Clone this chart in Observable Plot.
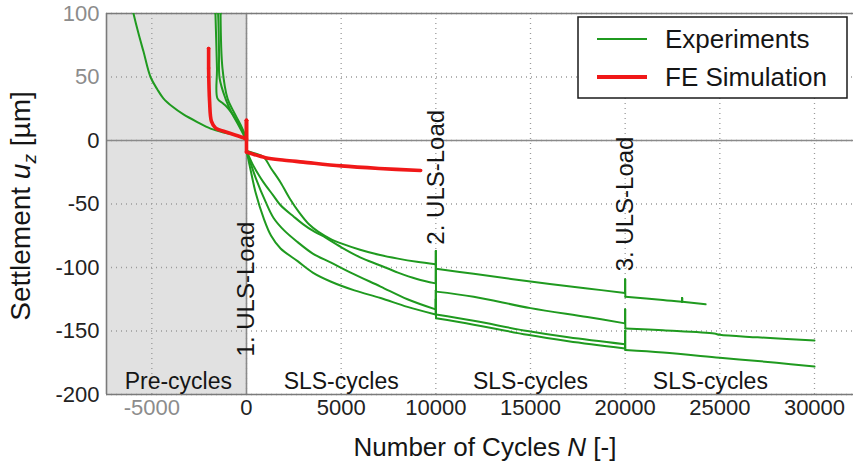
<!DOCTYPE html>
<html>
<head>
<meta charset="utf-8">
<script src="https://cdn.jsdelivr.net/npm/d3@7"></script>
<script src="https://cdn.jsdelivr.net/npm/@observablehq/plot@0.6"></script>
<style>
  html, body { margin: 0; padding: 0; background: white; }
  svg { display: block; }
</style>
</head>
<body>
<script>
// ---- axes / ticks ----
const xDomain = [-7394, 32060];
const yDomain = [-200, 100];
const xTicks = [-5000, 0, 5000, 10000, 15000, 20000, 25000, 30000];
const yTicks = [100, 50, 0, -50, -100, -150, -200];
const lightXTicks = [-5000];
const lightYTicks = [100, 50];

// ---- phases ----
const preCycleEnd = 0;
const phaseLabels = ["Pre-cycles", "SLS-cycles", "SLS-cycles", "SLS-cycles"];
const phaseLabelN = [-3600, 5000, 15000, 24500];
const phaseLabelU = -190;

// ---- ULS load annotations ----
const ulsLabels = ["1. ULS-Load", "2. ULS-Load", "3. ULS-Load"];
const ulsN = [0, 10000, 20000];
const ulsLabelBase = [-170, -82, -103];

// ---- Experiments [N, u_z] ----
const exp1 = [[-1660,104],[-1640,100],[-1560,57],[-1530,33],[-1220,29],[-950,25],[-480,15],[-50,3],[0,0],
  [0,-8],[400,-10],[900,-13],[1300,-22],[1800,-33],[2300,-46],[2800,-57],[3300,-66],[3800,-72],[4500,-78],
  [5000,-81],[6000,-86],[7000,-90],[8000,-93],[9000,-95.5],[9990,-97.5],[10000,-87],[10010,-101],
  [12000,-105],[15000,-111],[18000,-116.5],[19990,-120],[20000,-109.5],[20010,-123],[22000,-125.5],
  [23000,-127],[23010,-124],[23020,-127],[24250,-129]];
const exp2 = [[-1390,104],[-1370,100],[-1270,57],[-1000,33],[-690,23],[-320,12.6],[-50,3],[0,0],
  [0,-8],[300,-18],[600,-26],[900,-33],[1400,-43],[1800,-51],[2500,-60],[3000,-66],[3500,-71],[4000,-75],
  [5000,-84],[6000,-92],[7000,-98],[8000,-104],[9000,-109],[9990,-112.5],[10000,-98],[10010,-119],
  [12000,-123],[15000,-132],[18000,-139],[19990,-144],[20000,-133],[20010,-148],[22000,-149.5],
  [24700,-152],[25000,-153],[27000,-155],[30000,-157.5]];
const exp3 = [[-1530,104],[-1500,100],[-1450,70],[-1420,49],[-1110,33],[-790,22],[-420,12],[-100,3],[0,0],
  [0,-8],[200,-17],[500,-30],[1000,-48],[1430,-61],[2000,-71],[2700,-80],[3500,-89],[4440,-96],[5500,-104],
  [7080,-115],[8500,-125],[9990,-133],[10000,-118],[10010,-137],[12000,-142],[14840,-150],[17000,-155],
  [19990,-160.5]];
const exp4 = [[-6000,102],[-5970,100],[-5700,84],[-5440,70],[-5070,50],[-4700,40],[-4380,33],[-3900,26.5],
  [-3330,20.5],[-2600,14.5],[-1900,9.4],[-1200,6.3],[-690,4.7],[-160,1.6],[0,0],
  [0,-8],[200,-22],[500,-42],[900,-61],[1300,-75],[1800,-85],[2700,-95],[3500,-104],[4440,-111],[5700,-118],
  [7080,-124],[8500,-131],[9990,-137],[10000,-125],[10010,-140],[12000,-145],[14840,-153],[17000,-158],
  [19990,-163.7],[20000,-150],[20010,-165],[22000,-167],[25000,-171],[28000,-175],[30000,-178]];
const experiments = [exp1, exp2, exp3, exp4];

// ---- FE simulation [N, u_z] ----
const feSim = [[-2000,72.4],[-2000,57],[-1950,31],[-1850,15],[-1640,10],[-1000,6.3],[-320,3],[-50,1.5],[0,1],
  [0,16],[0,-9],[200,-10],[1000,-13.5],[2000,-15.5],[3000,-17],[5000,-20],[7000,-22],[9200,-23.6]];

// Split a series into smooth pieces and sharp jumps (consecutive points nearly at the same N)
function splitSeries(series, id) {
  const smooth = [], jumps = [];
  let seg = 0, cur = [series[0]];
  for (let i = 1; i < series.length; i++) {
    const a = series[i - 1], b = series[i];
    if (Math.abs(b[0] - a[0]) <= 25) {
      cur.forEach(p => smooth.push({n: p[0], u: p[1], key: id + "-" + seg}));
      jumps.push({n: a[0], u: a[1], key: id + "-j" + i}, {n: b[0], u: b[1], key: id + "-j" + i});
      seg++; cur = [b];
    } else cur.push(b);
  }
  cur.forEach(p => smooth.push({n: p[0], u: p[1], key: id + "-" + seg}));
  return {smooth, jumps};
}
const expParts = experiments.map((s, i) => splitSeries(s, "e" + i));
const expSmooth = expParts.flatMap(p => p.smooth);
const expJumps = expParts.flatMap(p => p.jumps);
const feParts = splitSeries(feSim, "fe");

const phaseData = phaseLabels.map((label, i) => ({label, n: phaseLabelN[i]}));
const ulsData = ulsLabels.map((label, i) => ({label, n: ulsN[i], u: ulsLabelBase[i]}));

const green = "#1f9a1f", red = "#f01818", frameColor = "#7a7a7a";
const font = "'Liberation Sans', Arial, Helvetica, sans-serif";
const fmt = d => String(d);

const svg = Plot.plot({
  width: 853, height: 470,
  marginLeft: 106, marginRight: 0, marginTop: 13, marginBottom: 76,
  style: {fontFamily: font, background: "white", overflow: "visible"},
  x: {domain: xDomain, label: null},
  y: {domain: yDomain, label: null},
  marks: [
    Plot.rect([{x1: xDomain[0], x2: preCycleEnd}], {x1: "x1", x2: "x2", y1: yDomain[0], y2: yDomain[1], fill: "#e1e1e1"}),
    Plot.gridX(xTicks, {stroke: "#9a9a9a", strokeOpacity: 1, strokeDasharray: "1,4", strokeWidth: 1.3}),
    Plot.gridY(yTicks, {stroke: "#9a9a9a", strokeOpacity: 1, strokeDasharray: "1,4", strokeWidth: 1.3}),
    Plot.ruleY([0], {stroke: "#8a8a8a", strokeWidth: 1.6}),
    Plot.ruleX([0], {stroke: "#8a8a8a", strokeWidth: 1.6}),
    Plot.ruleX([xDomain[0]], {stroke: frameColor, strokeWidth: 1.6}),
    Plot.ruleY(yDomain, {stroke: frameColor, strokeWidth: 1.6}),
    Plot.text(ulsData, {x: "n", y: "u", text: "label", rotate: -90, textAnchor: "start",
      lineAnchor: "middle", fontSize: 24, fill: "#151515", ariaLabel: "uls-label"}),
    Plot.line(expSmooth, {x: "n", y: "u", z: "key", stroke: green, strokeWidth: 2, curve: "catmull-rom", clip: true}),
    Plot.line(expJumps, {x: "n", y: "u", z: "key", stroke: green, strokeWidth: 2, clip: true}),
    Plot.line(feParts.smooth, {x: "n", y: "u", z: "key", stroke: red, strokeWidth: 3.6, curve: "catmull-rom", clip: true}),
    Plot.line(feParts.jumps, {x: "n", y: "u", z: "key", stroke: red, strokeWidth: 3.6, clip: true}),
    Plot.text(phaseData, {x: "n", y: phaseLabelU, text: "label", fontSize: 23, fill: "#151515"}),
    Plot.axisX(xTicks.filter(t => !lightXTicks.includes(t)), {tickSize: 0, tickPadding: 5, fontSize: 22, fill: "#222", label: null, tickFormat: fmt}),
    Plot.axisX(lightXTicks, {tickSize: 0, tickPadding: 5, fontSize: 22, fill: "#8c8c8c", label: null, tickFormat: fmt}),
    Plot.axisY(yTicks.filter(t => !lightYTicks.includes(t)), {tickSize: 0, tickPadding: 7, fontSize: 22, fill: "#222", label: null, tickFormat: fmt}),
    Plot.axisY(lightYTicks, {tickSize: 0, tickPadding: 7, fontSize: 22, fill: "#8c8c8c", label: null, tickFormat: fmt})
  ]
});
document.body.appendChild(svg);

const root = d3.select(svg);

// white boxes behind ULS labels
root.selectAll('g[aria-label="uls-label"] text').each(function() {
  const bb = this.getBBox();
  const t = this.getAttribute("transform");
  const r = document.createElementNS("http://www.w3.org/2000/svg", "rect");
  r.setAttribute("x", bb.x - 3);
  r.setAttribute("y", bb.y + 1);
  r.setAttribute("width", bb.width + 6);
  r.setAttribute("height", bb.height - 2);
  r.setAttribute("fill", "white");
  if (t) r.setAttribute("transform", t);
  this.parentNode.insertBefore(r, this);
});

// y-axis title with italic u and subscript z
const yt = root.append("text")
  .attr("transform", "translate(30,206) rotate(-90)")
  .attr("text-anchor", "middle")
  .attr("font-family", font).attr("font-size", 28).attr("fill", "#151515");
yt.append("tspan").text("Settlement ");
yt.append("tspan").attr("font-style", "italic").text("u");
yt.append("tspan").attr("font-style", "italic").attr("font-size", 19).attr("dy", 6).text("z");
yt.append("tspan").attr("dy", -6).text(" [\u00b5m]");

// x-axis title with italic N
const xt = root.append("text")
  .attr("x", 485).attr("y", 456)
  .attr("text-anchor", "middle")
  .attr("font-family", font).attr("font-size", 26).attr("fill", "#151515");
xt.append("tspan").text("Number of Cycles ");
xt.append("tspan").attr("font-style", "italic").text("N");
xt.append("tspan").text(" [-]");

// legend
const lg = root.append("g").attr("text-anchor", "start");
lg.append("rect").attr("x", 578).attr("y", 17).attr("width", 269).attr("height", 81)
  .attr("fill", "white").attr("stroke", "#1a1a1a").attr("stroke-width", 1.5);
const legendItems = [{label: "Experiments", color: green, w: 2}, {label: "FE Simulation", color: red, w: 4}];
legendItems.forEach((it, i) => {
  const y = 39 + i * 38;
  lg.append("line").attr("x1", 597).attr("x2", 647).attr("y1", y).attr("y2", y)
    .attr("stroke", it.color).attr("stroke-width", it.w);
  lg.append("text").attr("x", 665).attr("y", y).attr("dy", "0.36em").attr("text-anchor", "start")
    .attr("font-family", font).attr("font-size", 26).attr("fill", "#151515").text(it.label);
});
</script>
</body>
</html>
